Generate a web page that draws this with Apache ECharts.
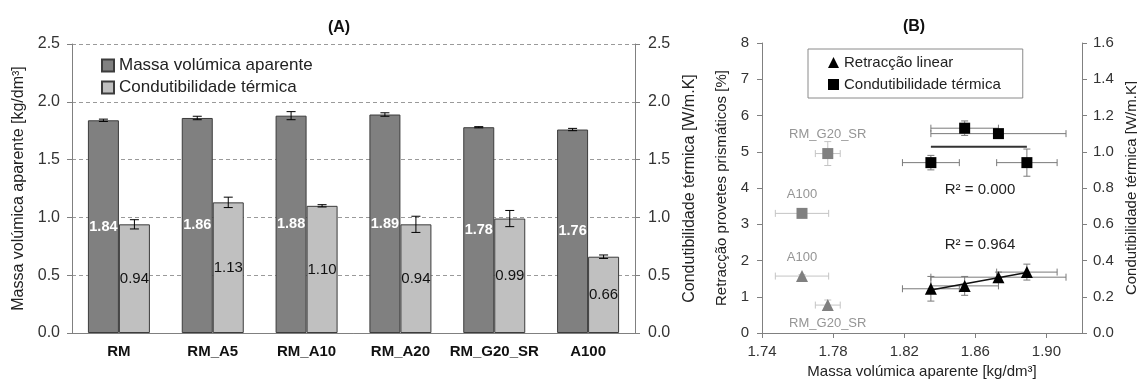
<!DOCTYPE html>
<html>
<head>
<meta charset="utf-8">
<script src="https://cdn.jsdelivr.net/npm/echarts@6/dist/echarts.min.js"></script>
<style>
  html, body { margin: 0; padding: 0; background: #fff; }
  #wrap { position: relative; width: 1137px; height: 381px; }
  #chartA { position: absolute; left: 0; top: 0; width: 700px; height: 381px; }
  #chartB { position: absolute; left: 700px; top: 0; width: 437px; height: 381px; }
</style>
</head>
<body>
<div id="wrap">
  <div id="chartA"></div>
  <div id="chartB"></div>
</div>
<script>
// ---- (A) bars
var categories = ['RM', 'RM_A5', 'RM_A10', 'RM_A20', 'RM_G20_SR', 'A100'];
var densidade = [1.84, 1.86, 1.88, 1.89, 1.78, 1.76];
var densidadeErr = [0.01, 0.015, 0.035, 0.015, 0.005, 0.01];
var condutibilidade = [0.94, 1.13, 1.10, 0.94, 0.99, 0.66];
var condutibilidadeErr = [0.04, 0.045, 0.01, 0.07, 0.07, 0.015];
var ticksA = [0, 0.5, 1.0, 1.5, 2.0, 2.5];

// ---- (B) scatter (RM, RM_A5, RM_A10, RM_A20)
var densB = [1.835, 1.854, 1.873, 1.889];
var densBErr = [0.016, 0.019, 0.038, 0.017];
var retraccao = [1.22, 1.30, 1.54, 1.68];
var retraccaoErr = [0.34, 0.26, 0.14, 0.22];
var condB = [0.94, 1.13, 1.10, 0.94];
var condBErr = [0.04, 0.04, 0.01, 0.075];
// outliers (grey), not in trend lines
var outNames = ['A100', 'RM_G20_SR'];
var densOut = [1.7625, 1.777];
var densOutErr = [0.015, 0.007];
var retraccaoOut = [1.57, 0.77];
var retraccaoOutErr = [0.04, 0.14];
var condOut = [0.66, 0.99];
var condOutErr = [0.012, 0.066];
var r2Retraccao = 'R² = 0.964';
var r2Cond = 'R² = 0.000';

var FONT = 'Liberation Sans, Arial, sans-serif';
var AXIS = '#808080';

// least squares line between the extreme x values
function trend(xs, ys) {
  var n = xs.length, mx = 0, my = 0, sxy = 0, sxx = 0;
  for (var i = 0; i < n; i++) { mx += xs[i] / n; my += ys[i] / n; }
  for (var j = 0; j < n; j++) {
    sxy += (xs[j] - mx) * (ys[j] - my);
    sxx += (xs[j] - mx) * (xs[j] - mx);
  }
  var b = sxy / sxx, a = my - b * mx;
  var x0 = Math.min.apply(null, xs), x1 = Math.max.apply(null, xs);
  return [[x0, a + b * x0], [x1, a + b * x1]];
}

function barErr(offset) {
  return function (params, api) {
    var i = api.value(0), v = api.value(1), e = api.value(2);
    var x = api.coord([i, v])[0] + offset;
    var y1 = api.coord([i, v + e])[1];
    var y2 = api.coord([i, v - e])[1];
    var st = { stroke: '#000', lineWidth: 1 };
    return {
      type: 'group',
      children: [
        { type: 'line', shape: { x1: x, y1: y1, x2: x, y2: y2 }, style: st },
        { type: 'line', shape: { x1: x - 4.5, y1: y1, x2: x + 4.5, y2: y1 }, style: st },
        { type: 'line', shape: { x1: x - 4.5, y1: y2, x2: x + 4.5, y2: y2 }, style: st }
      ]
    };
  };
}

function xyErr(color) {
  return function (params, api) {
    var x = api.value(0), y = api.value(1), ex = api.value(2), ey = api.value(3);
    var l = api.coord([x - ex, y]), r = api.coord([x + ex, y]);
    var t = api.coord([x, y + ey]), b = api.coord([x, y - ey]);
    var st = { stroke: color, lineWidth: 1 };
    var c = 3.5;
    return {
      type: 'group',
      children: [
        { type: 'line', shape: { x1: l[0], y1: l[1], x2: r[0], y2: r[1] }, style: st },
        { type: 'line', shape: { x1: l[0], y1: l[1] - c, x2: l[0], y2: l[1] + c }, style: st },
        { type: 'line', shape: { x1: r[0], y1: r[1] - c, x2: r[0], y2: r[1] + c }, style: st },
        { type: 'line', shape: { x1: t[0], y1: t[1], x2: b[0], y2: b[1] }, style: st },
        { type: 'line', shape: { x1: t[0] - c, y1: t[1], x2: t[0] + c, y2: t[1] }, style: st },
        { type: 'line', shape: { x1: b[0] - c, y1: b[1], x2: b[0] + c, y2: b[1] }, style: st }
      ]
    };
  };
}

function zip4(a, b, c, d) {
  return a.map(function (v, i) { return [v, b[i], c[i], d[i]]; });
}

// ================= chart A =================
var chartA = echarts.init(document.getElementById('chartA'));
var valAxisA = {
  type: 'value', min: 0, max: 2.5, interval: 0.5,
  nameLocation: 'middle', nameRotate: 90,
  nameTextStyle: { fontFamily: FONT, fontSize: 16, color: '#222' },
  axisLine: { show: true, lineStyle: { color: AXIS } },
  axisTick: { show: true, length: 5, lineStyle: { color: AXIS } },
  axisLabel: {
    fontFamily: FONT, fontSize: 16, color: '#333',
    formatter: function (v) { return v.toFixed(1); }
  }
};
chartA.setOption({
  animation: false,
  textStyle: { fontFamily: FONT },
  graphic: [{
    type: 'text', x: 339, y: 28,
    style: { text: '(A)', font: 'bold 16px ' + FONT, fill: '#111', align: 'center', verticalAlign: 'middle' }
  }],
  legend: {
    orient: 'vertical', left: 96, top: 52,
    itemWidth: 12, itemHeight: 12, itemGap: 5, icon: 'rect',
    textStyle: { fontFamily: FONT, fontSize: 17, color: '#222' },
    data: ['Massa volúmica aparente', 'Condutibilidade térmica']
  },
  grid: { left: 72, top: 44, width: 563, height: 289, outerBoundsMode: 'none' },
  xAxis: {
    type: 'category', data: categories,
    axisLine: { lineStyle: { color: AXIS } },
    axisTick: { length: 5, lineStyle: { color: AXIS } },
    axisLabel: { interval: 0, fontFamily: FONT, fontSize: 15, fontWeight: 'bold', color: '#111', margin: 11 }
  },
  yAxis: [
    Object.assign({}, valAxisA, {
      name: 'Massa volúmica aparente [kg/dm³]', nameGap: 44,
      axisLabel: Object.assign({}, valAxisA.axisLabel, { margin: 12 }),
      splitLine: { show: true, lineStyle: { color: '#9a9a9a', type: [4, 3] } }
    }),
    Object.assign({}, valAxisA, {
      position: 'right',
      name: 'Condutibilidade térmica [W/m.K]', nameGap: 40,
      axisLabel: Object.assign({}, valAxisA.axisLabel, { margin: 13 }),
      splitLine: { show: false }
    })
  ],
  series: [
    {
      name: 'Massa volúmica aparente', type: 'bar', data: densidade,
      barWidth: 31, barGap: '0%',
      itemStyle: { color: '#808080', borderColor: '#3c3c3c', borderWidth: 1 },
      label: {
        show: true, position: 'inside', color: '#fff', fontWeight: 'bold',
        fontFamily: FONT, fontSize: 14.5,
        formatter: function (p) { return p.value.toFixed(2); }
      }
    },
    {
      name: 'Condutibilidade térmica', type: 'bar', data: condutibilidade,
      yAxisIndex: 1, barWidth: 31, barGap: '0%',
      itemStyle: { color: '#c0c0c0', borderColor: '#3c3c3c', borderWidth: 1 },
      label: {
        show: true, position: 'inside', color: '#111',
        fontFamily: FONT, fontSize: 15,
        formatter: function (p) { return p.value.toFixed(2); }
      }
    },
    {
      type: 'custom', z: 4, silent: true,
      renderItem: barErr(-15.5),
      encode: { x: 0, y: 1 },
      data: densidade.map(function (v, i) { return [i, v, densidadeErr[i]]; })
    },
    {
      type: 'custom', z: 4, silent: true, yAxisIndex: 1,
      renderItem: barErr(15.5),
      encode: { x: 0, y: 1 },
      data: condutibilidade.map(function (v, i) { return [i, v, condutibilidadeErr[i]]; })
    }
  ]
});

// ================= chart B =================
var chartB = echarts.init(document.getElementById('chartB'));
var lblGrey = { fontFamily: FONT, fontSize: 13, color: '#959595', formatter: '{b}' };
function outData(ys, pos) {
  return densOut.map(function (x, i) {
    return { name: outNames[i], value: [x, ys[i]], label: { position: pos[i] } };
  });
}
chartB.setOption({
  animation: false,
  textStyle: { fontFamily: FONT },
  graphic: [
    {
      type: 'text', x: 214, y: 27,
      style: { text: '(B)', font: 'bold 16px ' + FONT, fill: '#111', align: 'center', verticalAlign: 'middle' }
    },
    {
      type: 'text', x: 280, y: 190,
      style: { text: r2Cond, font: '15px ' + FONT, fill: '#222', align: 'center', verticalAlign: 'middle' }
    },
    {
      type: 'text', x: 280, y: 245,
      style: { text: r2Retraccao, font: '15px ' + FONT, fill: '#222', align: 'center', verticalAlign: 'middle' }
    }
  ],
  legend: {
    orient: 'vertical', left: 108, top: 49,
    padding: [6, 22, 6, 20], itemGap: 7,
    itemWidth: 11, itemHeight: 11,
    borderColor: '#8a8a8a', borderWidth: 1,
    textStyle: { fontFamily: FONT, fontSize: 15, color: '#222' },
    data: [
      { name: 'Retracção linear', icon: 'triangle' },
      { name: 'Condutibilidade térmica', icon: 'rect' }
    ]
  },
  grid: { left: 62, top: 43, width: 320, height: 290, outerBoundsMode: 'none' },
  xAxis: {
    type: 'value', min: 1.74, max: 1.92, interval: 0.04,
    name: 'Massa volúmica aparente [kg/dm³]', nameLocation: 'middle', nameGap: 31,
    nameTextStyle: { fontFamily: FONT, fontSize: 15, color: '#222' },
    splitLine: { show: false },
    axisLine: { lineStyle: { color: AXIS } },
    axisTick: { length: 5, lineStyle: { color: AXIS } },
    axisLabel: {
      fontFamily: FONT, fontSize: 15, color: '#333', margin: 11, showMaxLabel: false,
      formatter: function (v) { return v.toFixed(2); }
    }
  },
  yAxis: [
    {
      type: 'value', min: 0, max: 8, interval: 1,
      name: 'Retracção provetes prismáticos [%]', nameLocation: 'middle', nameGap: 33, nameRotate: 90,
      nameTextStyle: { fontFamily: FONT, fontSize: 15, color: '#222' },
      splitLine: { show: false },
      axisLine: { show: true, lineStyle: { color: AXIS } },
      axisTick: { show: true, length: 5, lineStyle: { color: AXIS } },
      axisLabel: { fontFamily: FONT, fontSize: 15, color: '#333', margin: 13 }
    },
    {
      type: 'value', min: 0, max: 1.6, interval: 0.2, position: 'right',
      name: 'Condutibilidade térmica [W/m.K]', nameLocation: 'middle', nameGap: 40, nameRotate: 90,
      nameTextStyle: { fontFamily: FONT, fontSize: 15, color: '#222' },
      splitLine: { show: false },
      axisLine: { show: true, lineStyle: { color: AXIS } },
      axisTick: { show: true, length: 5, lineStyle: { color: AXIS } },
      axisLabel: {
        fontFamily: FONT, fontSize: 15, color: '#333', margin: 11,
        formatter: function (v) { return v.toFixed(1); }
      }
    }
  ],
  series: [
    // error bars
    {
      type: 'custom', z: 1, silent: true, renderItem: xyErr('#7a7a7a'),
      encode: { x: 0, y: 1 }, data: zip4(densB, retraccao, densBErr, retraccaoErr)
    },
    {
      type: 'custom', z: 1, silent: true, yAxisIndex: 1, renderItem: xyErr('#7a7a7a'),
      encode: { x: 0, y: 1 }, data: zip4(densB, condB, densBErr, condBErr)
    },
    {
      type: 'custom', z: 1, silent: true, renderItem: xyErr('#c4c4c4'),
      encode: { x: 0, y: 1 }, data: zip4(densOut, retraccaoOut, densOutErr, retraccaoOutErr)
    },
    {
      type: 'custom', z: 1, silent: true, yAxisIndex: 1, renderItem: xyErr('#c4c4c4'),
      encode: { x: 0, y: 1 }, data: zip4(densOut, condOut, densOutErr, condOutErr)
    },
    // trend lines
    {
      type: 'line', z: 2, silent: true, symbol: 'none',
      lineStyle: { color: '#111', width: 1.5 },
      data: trend(densB, retraccao)
    },
    {
      type: 'line', z: 2, silent: true, symbol: 'none', yAxisIndex: 1,
      lineStyle: { color: '#333', width: 2 },
      data: trend(densB, condB)
    },
    // points
    {
      name: 'Retracção linear', type: 'scatter', z: 3, symbol: 'triangle', symbolSize: 12,
      itemStyle: { color: '#000', opacity: 1 },
      data: densB.map(function (x, i) { return [x, retraccao[i]]; })
    },
    {
      name: 'Condutibilidade térmica', type: 'scatter', z: 3, symbol: 'rect', symbolSize: 11,
      yAxisIndex: 1, itemStyle: { color: '#000', opacity: 1 },
      data: densB.map(function (x, i) { return [x, condB[i]]; })
    },
    {
      type: 'scatter', z: 3, symbol: 'triangle', symbolSize: 12,
      itemStyle: { color: '#808080', opacity: 1 },
      label: Object.assign({ show: true, distance: 6 }, lblGrey),
      data: outData(retraccaoOut, ['top', 'bottom'])
    },
    {
      type: 'scatter', z: 3, symbol: 'rect', symbolSize: 11, yAxisIndex: 1,
      itemStyle: { color: '#808080', opacity: 1 },
      label: Object.assign({ show: true, distance: 7 }, lblGrey),
      data: outData(condOut, ['top', 'top'])
    }
  ]
});
</script>
</body>
</html>
